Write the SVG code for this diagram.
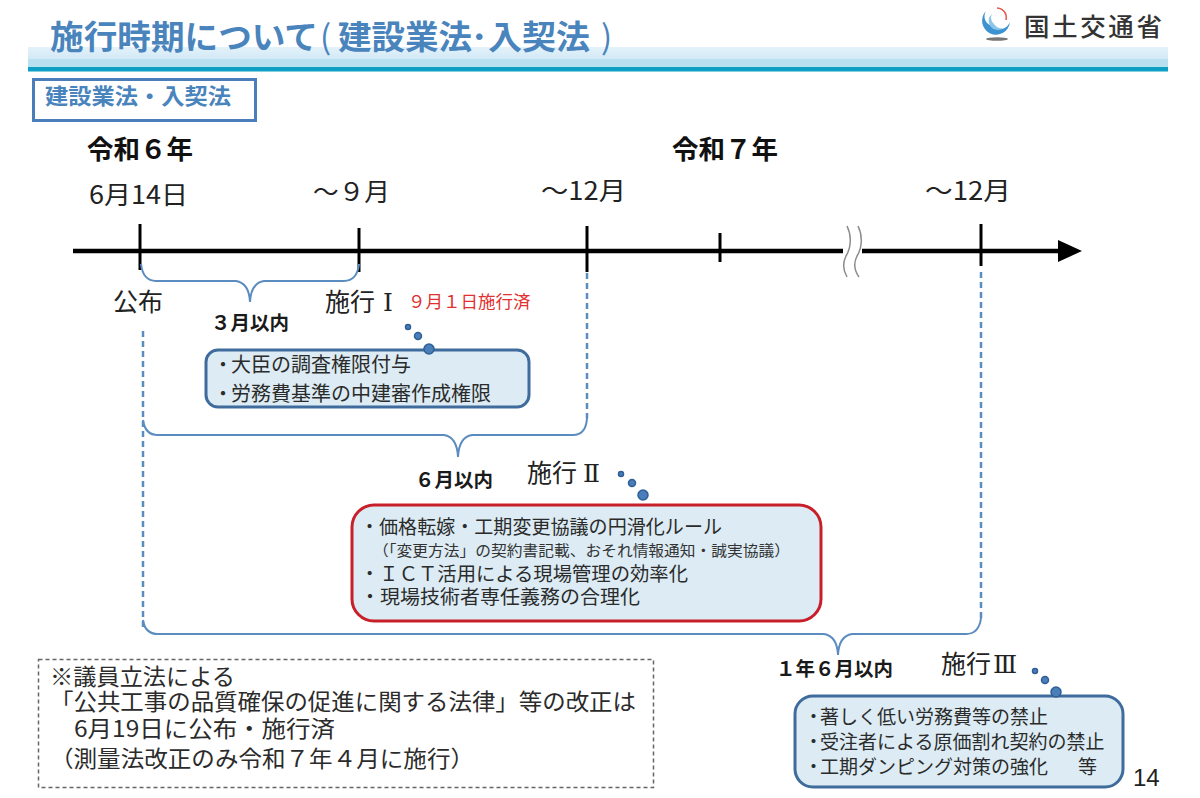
<svg xmlns="http://www.w3.org/2000/svg" width="1200" height="798" viewBox="0 0 1200 798">
<defs>
<linearGradient id="bandTop" x1="0" y1="0" x2="0" y2="1"><stop offset="0" stop-color="#e4f2fa"/><stop offset="1" stop-color="#d2e9f6"/></linearGradient>
</defs>
<style>
text{font-family:"Noto Sans CJK JP","Noto Sans",sans-serif;fill:#262626}
.title{font-size:33px;font-weight:700;fill:#4a84bd}
.sub{font-size:22px;font-weight:700;fill:#4a84bd}
.year{font-size:26.500px;font-weight:700;fill:#111}
.date{font-size:25px;fill:#222}
.lab{font-size:25px;fill:#222}
.num{font-size:25px;fill:#222;font-family:"DejaVu Serif","Liberation Serif",serif}
.dur{font-size:19.500px;font-weight:700;fill:#1a1a1a}
.body{font-size:20px;fill:#2b2b2b}
.body2{font-size:19.500px;fill:#2b2b2b}
.body3{font-size:19px;fill:#2b2b2b}
.small{font-size:15px;fill:#333}
.note{font-size:22.500px;fill:#2b2b2b}
.axis{stroke:#000;stroke-width:4.500;fill:none}
.tick{stroke:#000;stroke-width:3;fill:none}
.brace{stroke:#5a8cc0;stroke-width:2;fill:none}
.dash{stroke:#5a8cc0;stroke-width:2.500;stroke-dasharray:6 4;fill:none}
.box{fill:#dcebf4;stroke:#3f6c9c;stroke-width:3}
.dot{fill:#4a7ebb;stroke:#2f5f95;stroke-width:1.500}
.brk{fill:none;stroke:#8c8c8c;stroke-width:1.500}
</style>
<rect width="1200" height="798" fill="#fff"/>
<g id="header">
<rect x="28" y="47" width="1140" height="12" fill="url(#bandTop)"/>
<rect x="28" y="59" width="1140" height="9" fill="#b9e0ef"/>
<rect x="28" y="67" width="1140" height="4.500" fill="#0d9fc4"/>
<text class="title" x="50" y="49" textLength="268" lengthAdjust="spacingAndGlyphs">施行時期について</text>
<text class="title" x="320" y="49" style="font-weight:400">(</text>
<text class="title" x="338" y="49" textLength="134" lengthAdjust="spacingAndGlyphs">建設業法</text>
<text class="title" x="471" y="49">･</text>
<text class="title" x="488" y="49" textLength="102" lengthAdjust="spacingAndGlyphs">入契法</text>
<text class="title" x="601" y="49" style="font-weight:400">)</text>
</g>
<g id="logo">
<path d="M986 11A14 14 0 1 0 1010 22A11 11 0 0 1 992 26A10 10 0 0 1 986 11Z" fill="#3d93d1"/>
<path d="M992 14A8 8 0 0 0 1003 28A9 9 0 0 1 994 24A8 8 0 0 1 992 14Z" fill="#8cc6ea"/>
<path d="M997 8A10 10 0 0 1 1006 20A9 9 0 0 0 997 8Z" fill="#e8574a" stroke="#e8574a" stroke-width="1"/>
<ellipse cx="997" cy="39" rx="11" ry="1.800" fill="#777"/>
<text x="1024" y="36" textLength="138" style="fill:#333;font-size:25.500px;font-weight:500">国土交通省</text>
</g>
<g id="label-box">
<rect x="33.500" y="79.500" width="222" height="41" fill="#fff" stroke="#4a7ebb" stroke-width="3"/>
<text class="sub" x="45" y="104" textLength="186" lengthAdjust="spacingAndGlyphs">建設業法・入契法</text>
</g>
<g id="connectors">
<path class="axis" d="M73 251H843M862 251H1062"/>
<path d="M1058 240L1082 251L1058 262Z" fill="#000"/>
<path class="tick" d="M140 224V270M359 228V272M587 226V272M720 233V262M981 224V266"/>
<path class="brk" d="M847 226C852 236 851 248 846 256C842 264 843 270 847 277M858 226C863 236 862 248 857 256C853 264 854 270 859 277"/>
<path class="brace" d="M141 264Q143 281 156 281H236Q249 283 250 302Q251 283 264 281H344Q357 281 359 264"/>
<path class="dash" d="M143 331V628"/>
<path class="dash" d="M587 273V418"/>
<path class="dash" d="M981 272V620"/>
<path class="brace" d="M143 420Q145 435 158 435H444Q457 437 458 457Q459 437 472 435H573Q586 435 587 418"/>
<path class="brace" d="M143 620Q145 634 158 634H824Q837 636 838 655Q839 636 852 634H966Q979 634 981 618"/>
</g>
<g id="axis-labels">
<text class="year" x="87" y="159">令和６年</text>
<text class="year" x="672" y="159">令和７年</text>
<text class="date" x="89" y="204" textLength="99" lengthAdjust="spacingAndGlyphs">6月14日</text>
<text class="date" x="313" y="201" textLength="77" lengthAdjust="spacingAndGlyphs">～９月</text>
<text class="date" x="541" y="200" textLength="85" lengthAdjust="spacingAndGlyphs">～12月</text>
<text class="date" x="925" y="200" textLength="86" lengthAdjust="spacingAndGlyphs">～12月</text>
</g>
<g id="node-kofu"><text class="lab" x="113" y="311">公布</text></g>
<g id="box-1">
<rect class="box" x="206" y="350" width="323" height="57" rx="12"/>
<text class="body"><tspan x="213" y="372">・</tspan><tspan dx="-2">大臣の調査権限付与</tspan><tspan x="213" y="401">・</tspan><tspan dx="-2">労務費基準の中建審作成権限</tspan></text>
</g>
<g id="node-shiko1">
<text class="lab" x="325" y="311">施行</text><text class="num" x="383" y="311">Ⅰ</text>
<text x="408" y="308" style="font-size:17.500px;fill:#e03030">９月１日施行済</text>
<text class="dur" x="211" y="330">３月以内</text>
<circle class="dot" cx="408" cy="327" r="2.500"/><circle class="dot" cx="418" cy="336" r="3.500"/><circle class="dot" cx="429" cy="349" r="5"/>
</g>
<g id="box-2">
<rect x="352" y="505" width="469" height="116" rx="22" fill="#dcebf4" stroke="#c8202a" stroke-width="3"/>
<text class="body2"><tspan x="360" y="534" textLength="362" lengthAdjust="spacingAndGlyphs">・価格転嫁・工期変更協議の円滑化ルール</tspan><tspan class="small" x="373" y="556" textLength="417" lengthAdjust="spacingAndGlyphs">（「変更方法」の契約書記載、おそれ情報通知・誠実協議）</tspan><tspan x="360" y="581" textLength="328" lengthAdjust="spacingAndGlyphs">・ＩＣＴ活用による現場管理の効率化</tspan><tspan x="360" y="604" textLength="280" lengthAdjust="spacingAndGlyphs">・現場技術者専任義務の合理化</tspan></text>
</g>
<g id="node-shiko2">
<text class="dur" x="415" y="487">６月以内</text>
<text class="lab" x="527" y="482">施行</text><text class="num" x="583" y="482">Ⅱ</text>
<circle class="dot" cx="621" cy="474" r="2.500"/><circle class="dot" cx="632" cy="483" r="3.500"/><circle class="dot" cx="643" cy="495" r="5"/>
</g>
<g id="box-3">
<rect class="box" x="795" y="696" width="328" height="91" rx="18"/>
<text class="body3"><tspan x="804" y="724">・</tspan><tspan dx="-3">著しく低い労務費等の禁止</tspan><tspan x="804" y="749">・</tspan><tspan dx="-3">受注者による原価割れ契約の禁止</tspan><tspan x="804" y="774">・</tspan><tspan dx="-3">工期ダンピング対策の強化</tspan><tspan x="1078" y="774">等</tspan></text>
</g>
<g id="node-shiko3">
<text class="dur" x="776" y="676">１年６月以内</text>
<text class="lab" x="941" y="673">施行</text><text class="num" x="993" y="673">Ⅲ</text>
<circle class="dot" cx="1035" cy="671" r="2.500"/><circle class="dot" cx="1045" cy="680" r="3.500"/><circle class="dot" cx="1056" cy="692" r="5"/>
</g>
<text x="1133" y="786" style="font-family:'Liberation Sans',sans-serif;font-size:24px;fill:#222">14</text>
<g id="note">
<rect x="38.500" y="659.500" width="615" height="128" fill="#fff" stroke="#666" stroke-width="1.500" stroke-dasharray="4 3"/>
<text class="note"><tspan x="50" y="685" textLength="185" lengthAdjust="spacingAndGlyphs">※議員立法による</tspan><tspan x="50" y="710" textLength="586" lengthAdjust="spacingAndGlyphs">「公共工事の品質確保の促進に関する法律」等の改正は</tspan><tspan x="74" y="737" textLength="261" lengthAdjust="spacingAndGlyphs">6月19日に公布・施行済</tspan><tspan x="50" y="767" textLength="424" lengthAdjust="spacingAndGlyphs">（測量法改正のみ令和７年４月に施行）</tspan></text>
</g>
</svg>
